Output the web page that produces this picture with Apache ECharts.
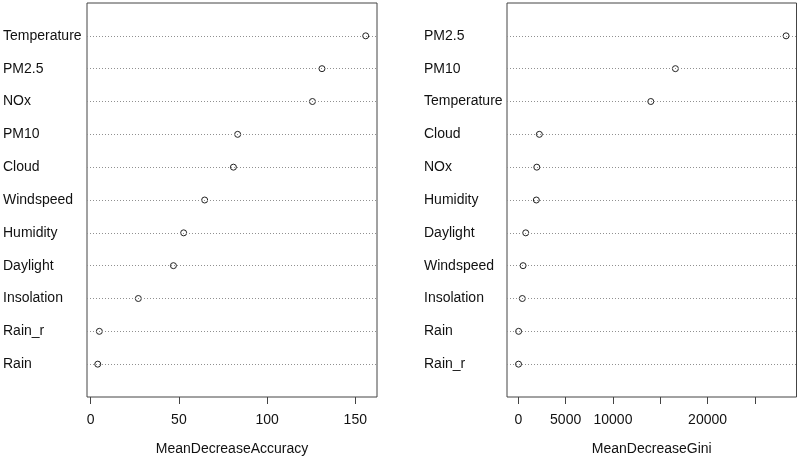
<!DOCTYPE html>
<html>
<head>
<meta charset="utf-8">
<script src="https://cdn.jsdelivr.net/npm/echarts@6/dist/echarts.min.js"></script>
<style>
html,body{margin:0;padding:0;background:#fff;}
#c{width:800px;height:457px;}
</style>
</head>
<body>
<div id="c"></div>
<script>
// Left panel (top to bottom)
const accCategories = ['Temperature','PM2.5','NOx','PM10','Cloud','Windspeed','Humidity','Daylight','Insolation','Rain_r','Rain'];
const accValues = [155.9,131.1,125.7,83.3,80.9,64.6,52.7,46.9,27.0,4.9,4.0];
const accTicks = [0,50,100,150];
const accTickLabels = [0,50,100,150];

// Right panel (top to bottom)
const giniCategories = ['PM2.5','PM10','Temperature','Cloud','NOx','Humidity','Daylight','Windspeed','Insolation','Rain','Rain_r'];
const giniValues = [28300,16600,14000,2220,1950,1900,780,500,420,30,20];
const giniTicks = [0,5000,10000,15000,20000,25000];
const giniTickLabels = [0,5000,10000,20000];

const FONT = 'Liberation Sans, Arial, sans-serif';
const TXT = '#111';

function panel(idx, cats, vals, ticks, tickLabels, xmin, xmax, title, labelMargin) {
  const n = cats.length;
  const yAxis = {
    gridIndex: idx, type: 'value', min: 0, max: n + 1,
    axisLine: {show: false}, axisTick: {show: false}, splitLine: {show: false},
    axisLabel: {
      customValues: cats.map((c, i) => n - i),
      formatter: v => cats[n - v] || '',
      align: 'left', margin: labelMargin,
      color: TXT, fontFamily: FONT, fontSize: 14,
      padding: [3, 0, 0, 0]
    }
  };
  const xAxis = {
    gridIndex: idx, type: 'value', min: xmin, max: xmax,
    name: title, nameLocation: 'middle', nameGap: 45,
    nameTextStyle: {color: TXT, fontFamily: FONT, fontSize: 14},
    axisLine: {show: false},
    splitLine: {show: false},
    axisTick: {show: true, customValues: ticks, length: 7, inside: false,
      lineStyle: {color: '#444', width: 1}},
    axisLabel: {customValues: tickLabels, margin: 16, color: TXT, fontFamily: FONT, fontSize: 14,
      formatter: v => String(v)}
  };
  const series = {
    type: 'scatter', xAxisIndex: idx, yAxisIndex: idx,
    symbol: 'circle', symbolSize: 6,
    itemStyle: {color: '#fff', borderColor: '#222', borderWidth: 1, opacity: 1},
    data: vals.map((v, i) => [v, n - i]),
    z: 3,
    markLine: {
      silent: true, symbol: 'none', animation: false,
      label: {show: false},
      lineStyle: {color: '#909090', type: [1, 2], width: 1},
      emphasis: {disabled: true},
      data: cats.map((c, i) => ({yAxis: n - i}))
    }
  };
  return {xAxis, yAxis, series};
}

const p1 = panel(0, accCategories, accValues, accTicks, accTickLabels, -2.1, 162.3, 'MeanDecreaseAccuracy', 84);
const p2 = panel(1, giniCategories, giniValues, giniTicks, giniTickLabels, -1200, 29400, 'MeanDecreaseGini', 83);

const chart = echarts.init(document.getElementById('c'), null, {renderer: 'canvas'});
chart.setOption({
  animation: false,
  backgroundColor: '#fff',
  grid: [
    {left: 87, width: 290, top: 3, height: 394, show: true, borderColor: '#444', borderWidth: 1, backgroundColor: 'transparent', containLabel: false, outerBoundsMode: 'none'},
    {left: 507, width: 289.5, top: 3, height: 394, show: true, borderColor: '#444', borderWidth: 1, backgroundColor: 'transparent', containLabel: false, outerBoundsMode: 'none'}
  ],
  xAxis: [p1.xAxis, p2.xAxis],
  yAxis: [p1.yAxis, p2.yAxis],
  series: [p1.series, p2.series]
});
</script>
</body>
</html>
